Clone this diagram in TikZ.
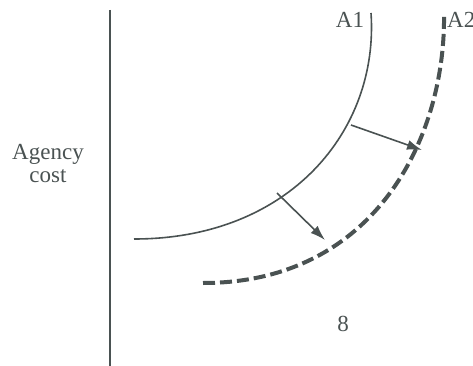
\documentclass[tikz,border=0pt]{standalone}
\usepackage{fontspec}
\setmainfont{Liberation Serif}
\usetikzlibrary{arrows.meta}
\definecolor{ink}{HTML}{4A5252}
\begin{document}
\begin{tikzpicture}[x=1pt,y=-1pt,
  lbl/.style={font=\fontsize{23}{22}\selectfont, text=ink, inner sep=0pt},
  axisline/.style={draw=ink, line width=2pt},
  solidcurve/.style={draw=ink, line width=1.6pt},
  dashcurve/.style={draw=ink, line width=4pt, dash pattern=on 12pt off 5pt},
  shiftarrow/.style={draw=ink, line width=1.6pt, -{Latex[length=15pt,width=10pt]}}]
\useasboundingbox (0,0) rectangle (473,366);
% axis
\coordinate (axtop) at (110,10);
\coordinate (axbot) at (110,366);
\draw[axisline] (axtop) -- (axbot);
% curves
\coordinate (a1s) at (134,239);
\coordinate (a1e) at (371,13);
\draw[solidcurve] (a1s) .. controls (290,239) and (379,130) .. (a1e);
\coordinate (a2s) at (203,283);
\coordinate (a2e) at (444,13);
\draw[dashcurve] (a2s) .. controls (373,283) and (446,140) .. (a2e);
% arrows
\coordinate (u1) at (351,125);
\coordinate (u2) at (422,150);
\draw[shiftarrow] (u1) -- (u2);
\coordinate (l1) at (277,193);
\coordinate (l2) at (325,240);
\draw[shiftarrow] (l1) -- (l2);
% labels
\node[lbl, anchor=base] (A1) at (350,28) {A1};
\node[lbl, anchor=base west] (A2) at (447,28) {A2};
\node[lbl, anchor=base] (ag) at (48,160) {Agency};
\node[lbl, anchor=base] (co) at (48,182) {cost};
\node[lbl, anchor=base] (eight) at (343,331) {8};
\end{tikzpicture}
\end{document}
